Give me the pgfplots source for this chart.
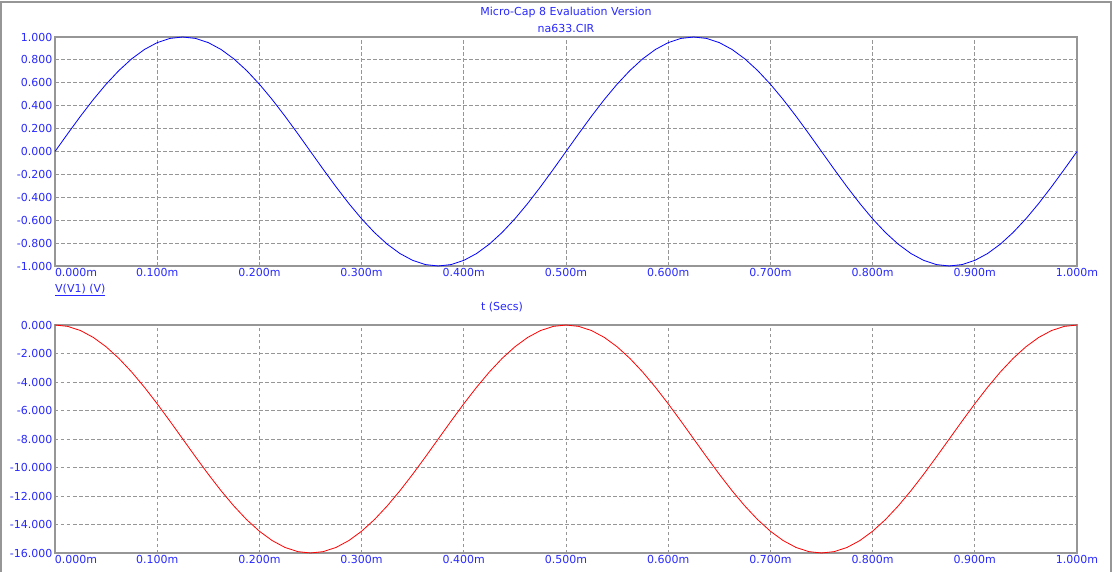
\documentclass[border=0pt]{standalone}
\usepackage{pgfplots}
\usepackage{pgfplotstable}
\usepackage{fontspec}
\setmainfont{DejaVu Sans}
\pgfplotsset{compat=1.18}

\definecolor{mcblue}{RGB}{0,0,255}
\definecolor{mctext}{RGB}{40,40,255}
\definecolor{mcred}{RGB}{255,0,0}
\definecolor{mcframe}{RGB}{150,150,150}
\definecolor{mcgrid}{RGB}{150,150,150}

% t in ms, V(V1), bottom trace
\pgfplotstableread{
t v p
0.0000 0.0000 0.000
0.0125 0.1564 -0.098
0.0250 0.3090 -0.391
0.0375 0.4540 -0.872
0.0500 0.5878 -1.528
0.0625 0.7071 -2.343
0.0750 0.8090 -3.298
0.0875 0.8910 -4.368
0.1000 0.9511 -5.528
0.1125 0.9877 -6.749
0.1250 1.0000 -8.000
0.1375 0.9877 -9.251
0.1500 0.9511 -10.472
0.1625 0.8910 -11.632
0.1750 0.8090 -12.702
0.1875 0.7071 -13.657
0.2000 0.5878 -14.472
0.2125 0.4540 -15.128
0.2250 0.3090 -15.609
0.2375 0.1564 -15.902
0.2500 0.0000 -16.000
0.2625 -0.1564 -15.902
0.2750 -0.3090 -15.609
0.2875 -0.4540 -15.128
0.3000 -0.5878 -14.472
0.3125 -0.7071 -13.657
0.3250 -0.8090 -12.702
0.3375 -0.8910 -11.632
0.3500 -0.9511 -10.472
0.3625 -0.9877 -9.251
0.3750 -1.0000 -8.000
0.3875 -0.9877 -6.749
0.4000 -0.9511 -5.528
0.4125 -0.8910 -4.368
0.4250 -0.8090 -3.298
0.4375 -0.7071 -2.343
0.4500 -0.5878 -1.528
0.4625 -0.4540 -0.872
0.4750 -0.3090 -0.391
0.4875 -0.1564 -0.098
0.5000 0.0000 0.000
0.5125 0.1564 -0.098
0.5250 0.3090 -0.391
0.5375 0.4540 -0.872
0.5500 0.5878 -1.528
0.5625 0.7071 -2.343
0.5750 0.8090 -3.298
0.5875 0.8910 -4.368
0.6000 0.9511 -5.528
0.6125 0.9877 -6.749
0.6250 1.0000 -8.000
0.6375 0.9877 -9.251
0.6500 0.9511 -10.472
0.6625 0.8910 -11.632
0.6750 0.8090 -12.702
0.6875 0.7071 -13.657
0.7000 0.5878 -14.472
0.7125 0.4540 -15.128
0.7250 0.3090 -15.609
0.7375 0.1564 -15.902
0.7500 0.0000 -16.000
0.7625 -0.1564 -15.902
0.7750 -0.3090 -15.609
0.7875 -0.4540 -15.128
0.8000 -0.5878 -14.472
0.8125 -0.7071 -13.657
0.8250 -0.8090 -12.702
0.8375 -0.8910 -11.632
0.8500 -0.9511 -10.472
0.8625 -0.9877 -9.251
0.8750 -1.0000 -8.000
0.8875 -0.9877 -6.749
0.9000 -0.9511 -5.528
0.9125 -0.8910 -4.368
0.9250 -0.8090 -3.298
0.9375 -0.7071 -2.343
0.9500 -0.5878 -1.528
0.9625 -0.4540 -0.872
0.9750 -0.3090 -0.391
0.9875 -0.1564 -0.098
1.0000 0.0000 0.000
}\traces

\newcommand{\lbl}{\fontsize{11}{13}\selectfont}

\pgfplotsset{mcap/.style={
    scale only axis, width=1022pt,
    xmin=0, xmax=1,
    xtick={0,0.1,0.2,0.3,0.4,0.5,0.6,0.7,0.8,0.9,1},
    xticklabels={\makebox[0pt][l]{0.000m},0.100m,0.200m,0.300m,0.400m,0.500m,0.600m,0.700m,0.800m,0.900m,1.000m},
    major tick length=0pt,
    grid=major,
    major grid style={mcgrid, line width=0.9pt, dash pattern=on 3.5pt off 2.5pt},
    axis line style={mcframe, line width=1.3pt},
    tick label style={font=\lbl, text=mctext},
    xticklabel style={anchor=north, inner sep=2pt},
    yticklabel style={anchor=east, inner sep=2.5pt},
    clip=false,
}}

\begin{document}
\begin{tikzpicture}
\useasboundingbox (0pt,0pt) rectangle (1115pt,-572pt);
\draw[mcframe, line width=1.6pt] (1pt,-572pt) -- (1pt,-2pt) -- (1111pt,-2pt) -- (1111pt,-572pt);

\node[font=\lbl, text=mctext] at (566pt,-12pt) {Micro-Cap 8 Evaluation Version};
\node[font=\lbl, text=mctext] at (566pt,-28pt) {na633.CIR};

\begin{axis}[mcap, height=229pt,
    at={(55pt,-37pt)}, anchor=north west,
    ymin=-1, ymax=1,
    ytick={-1,-0.8,-0.6,-0.4,-0.2,0,0.2,0.4,0.6,0.8,1},
    yticklabels={-1.000,-0.800,-0.600,-0.400,-0.200,0.000,0.200,0.400,0.600,0.800,1.000},
]
\addplot[mcblue, line width=0.8pt] table[x=t, y=v] {\traces};
\end{axis}

\node[font=\lbl, text=mctext, anchor=west, inner sep=0pt] at (55pt,-290pt) {\underline{V(V1) (V)}};
\node[font=\lbl, text=mctext] at (502pt,-307pt) {t (Secs)};

\begin{axis}[mcap, height=228pt,
    at={(55pt,-325pt)}, anchor=north west,
    ymin=-16, ymax=0,
    ytick={-16,-14,-12,-10,-8,-6,-4,-2,0},
    yticklabels={-16.000,-14.000,-12.000,-10.000,-8.000,-6.000,-4.000,-2.000,0.000},
]
\addplot[mcred, line width=0.8pt] table[x=t, y=p] {\traces};
\end{axis}
\end{tikzpicture}
\end{document}
